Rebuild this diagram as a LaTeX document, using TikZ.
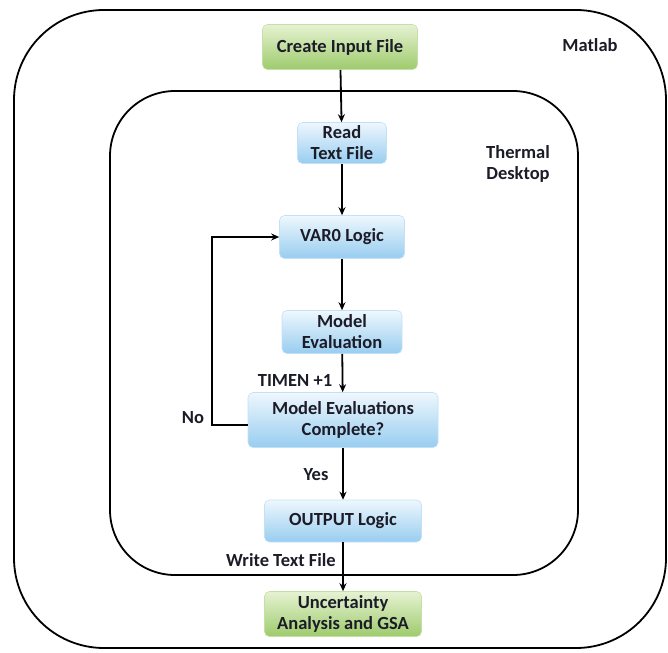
\documentclass[tikz,border=0pt]{standalone}
\usepackage{fontspec}
\setmainfont{Carlito}
\usetikzlibrary{arrows.meta}

\definecolor{blueTop}{HTML}{EEF7FD}
\definecolor{blueBot}{HTML}{98CDF0}
\definecolor{greenTop}{HTML}{E6F2D2}
\definecolor{greenBot}{HTML}{9ECB6C}
\definecolor{txt}{HTML}{1C1C28}

\begin{document}
\begin{tikzpicture}[x=1pt,y=-1pt,line width=1.8pt,
    >={Stealth[length=8pt,width=7pt]},
    blue_node/.style={rounded corners=5pt,top color=blueTop,bottom color=blueBot,draw=blueBot!60,line width=0.6pt,align=center,inner sep=0pt,text=txt,font=\fontsize{18.5}{21}\selectfont\bfseries},
    green_node/.style={blue_node,top color=greenTop,bottom color=greenBot,draw=greenBot!60},
    label_text/.style={font=\fontsize{18.5}{21}\selectfont\bfseries,align=center,text=txt}]

    \useasboundingbox (0,0) rectangle (668,652);
    \draw[rounded corners=90pt] (14,10) rectangle (666,648);
    \draw[rounded corners=65pt] (110,91) rectangle (578,575);

    \node[green_node,minimum width=155pt,minimum height=45pt] (1) at (340,47)  {Create Input File};
    \node[blue_node,minimum width=89pt,minimum height=41pt]   (2) at (342,143) {Read\\Text File};
    \node[blue_node,minimum width=125pt,minimum height=43pt]  (3) at (342,237) {VAR0 Logic};
    \node[blue_node,minimum width=120pt,minimum height=43pt]  (4) at (342,332) {Model\\Evaluation};
    \node[blue_node,minimum width=190pt,minimum height=55pt]  (5) at (343,420) {Model Evaluations\\Complete?};
    \node[blue_node,minimum width=157pt,minimum height=42pt]  (6) at (343,521) {OUTPUT Logic};
    \node[green_node,minimum width=157pt,minimum height=45pt] (7) at (343,614) {Uncertainty\\Analysis and GSA};

    \node[label_text] (matlab) at (590,45)  {Matlab};
    \node[label_text] (td)     at (518,164) {Thermal\\Desktop};
    \node[label_text] (timen)  at (295,380) {TIMEN +1};
    \node[label_text] (no)     at (193,418) {No};
    \node[label_text] (yes)    at (316,475) {Yes};
    \node[label_text] (write)  at (281,560) {Write Text File};

    \draw[->] (1) -- (2);
    \draw[->] (2) -- (3);
    \draw[->] (3) -- (4);
    \draw[->] (4) -- (5);
    \draw[->] (5) -- (6);
    \draw[->] (6) -- (7);
    \draw[->] (5.west |- 0,425) -| (212,237) -- (3.west);
\end{tikzpicture}
\end{document}
